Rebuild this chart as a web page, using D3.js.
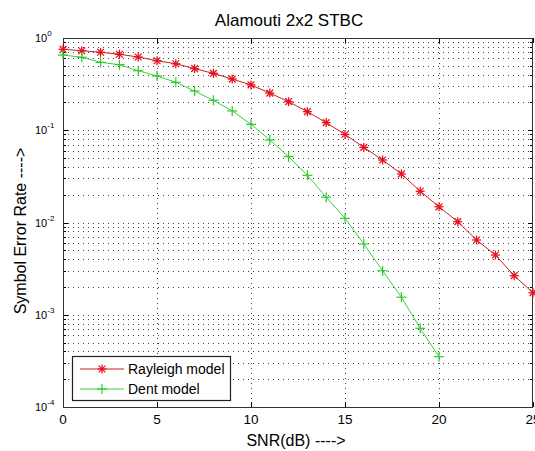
<!DOCTYPE html>
<html>
<head>
<meta charset="utf-8">
<script src="https://cdn.jsdelivr.net/npm/d3@7"></script>
<style>
  body { margin: 0; background: #fff; }
  text { font-family: "Liberation Sans", Arial, sans-serif; fill: #000; }
</style>
</head>
<body>
<div id="chart"></div>
<script>
// SNR in dB
const snrRayleigh = d3.range(0, 26);
const snrDent = d3.range(0, 21);

// symbol error rate
const rayleigh = [0.754, 0.728, 0.70, 0.666, 0.622, 0.567, 0.526, 0.465, 0.414, 0.359,
  0.31, 0.253, 0.204, 0.159, 0.121, 0.090, 0.0653, 0.0476, 0.0336, 0.0218,
  0.0148, 0.0102, 0.00646, 0.00444, 0.00265, 0.00173];
const dent = [0.654, 0.618, 0.545, 0.514, 0.442, 0.387, 0.331, 0.266, 0.211, 0.162,
  0.116, 0.0784, 0.0517, 0.0325, 0.0188, 0.0111, 0.00585, 0.0030, 0.00155, 0.000713,
  0.000351];

const xTicks = [0, 5, 10, 15, 20, 25];
const yExponents = [0, -1, -2, -3, -4];
const seriesNames = ['Rayleigh model', 'Dent model'];

const width = 535, height = 451;
const margin = { left: 63, right: 2, top: 38, bottom: 44 };

const svg = d3.select('#chart')
  .append('svg')
  .attr('width', width)
  .attr('height', height);

const x = d3.scaleLinear()
  .domain([0, 25])
  .range([margin.left, width - margin.right]);
const y = d3.scaleLog()
  .domain([1e-4, 1])
  .range([height - margin.bottom, margin.top]);

const [x0, x1] = x.range();
const [y0, y1] = y.range();

// grid values for the log axis: 1..9 in each decade
const yGrid = [];
for (let e = -4; e < 0; e++) {
  for (let m = 1; m < 10; m++) {
    if (!(e === -4 && m === 1)) yGrid.push(m * Math.pow(10, e));
  }
}

const grid = svg.append('g')
  .attr('stroke', '#444')
  .attr('stroke-width', 1)
  .attr('stroke-dasharray', '1,4');

grid.selectAll('.gx')
  .data(xTicks.slice(1, -1))
  .enter().append('line')
  .attr('x1', d => Math.round(x(d)) + 0.5)
  .attr('x2', d => Math.round(x(d)) + 0.5)
  .attr('y1', y1)
  .attr('y2', y0);

grid.selectAll('.gy')
  .data(yGrid)
  .enter().append('line')
  .attr('x1', x0)
  .attr('x2', x1)
  .attr('y1', d => Math.round(y(d)) + 0.5)
  .attr('y2', d => Math.round(y(d)) + 0.5);

// ticks on all four sides, pointing inward
const ticks = svg.append('g').attr('stroke', '#000').attr('stroke-width', 1);
xTicks.forEach(t => {
  const px = Math.round(x(t)) + 0.5;
  ticks.append('line').attr('x1', px).attr('x2', px).attr('y1', y0).attr('y2', y0 - 5);
  ticks.append('line').attr('x1', px).attr('x2', px).attr('y1', y1).attr('y2', y1 + 5);
});
yGrid.concat([1e-4]).forEach(v => {
  const py = Math.round(y(v)) + 0.5;
  const major = Math.abs(Math.log10(v) - Math.round(Math.log10(v))) < 1e-9;
  const len = major ? 5 : 3;
  ticks.append('line').attr('x1', x0).attr('x2', x0 + len).attr('y1', py).attr('y2', py);
  ticks.append('line').attr('x1', x1).attr('x2', x1 - len).attr('y1', py).attr('y2', py);
});

// box
svg.append('rect')
  .attr('x', x0 + 0.5)
  .attr('y', y1 + 0.5)
  .attr('width', x1 - x0 - 1)
  .attr('height', y0 - y1)
  .attr('fill', 'none')
  .attr('stroke', '#333')
  .attr('stroke-width', 1);

// tick labels
svg.append('g').selectAll('text')
  .data(xTicks)
  .enter().append('text')
  .attr('x', d => x(d))
  .attr('y', y0 + 17)
  .attr('text-anchor', 'middle')
  .style('font-size', '13.5px')
  .text(d => d);

const yl = svg.append('g').selectAll('text')
  .data(yExponents)
  .enter().append('text')
  .attr('x', 35)
  .attr('y', d => y(Math.pow(10, d)) + 4)
  .style('font-size', '11px');
yl.append('tspan').text('10');
yl.append('tspan')
  .attr('dy', -6)
  .style('font-size', '8px')
  .text(d => d);

// lines and markers
const line = d3.line().x(d => x(d[0])).y(d => y(d[1]));
const redLine = '#c42026', redMark = '#e8101c';
const greenLine = '#3bd23b', greenMark = '#2ec82e';

const redData = snrRayleigh.map((s, i) => [s, rayleigh[i]]);
const greenData = snrDent.map((s, i) => [s, dent[i]]);

function star(g, cx, cy, r, color) {
  const p = g.append('g').attr('stroke', color).attr('stroke-width', 1.3);
  p.append('line').attr('x1', cx - r).attr('x2', cx + r).attr('y1', cy).attr('y2', cy);
  p.append('line').attr('x1', cx).attr('x2', cx).attr('y1', cy - r).attr('y2', cy + r);
  const k = r * 0.75;
  p.append('line').attr('x1', cx - k).attr('x2', cx + k).attr('y1', cy - k).attr('y2', cy + k);
  p.append('line').attr('x1', cx - k).attr('x2', cx + k).attr('y1', cy + k).attr('y2', cy - k);
}
function plus(g, cx, cy, r, color) {
  const p = g.append('g').attr('stroke', color).attr('stroke-width', 1.2);
  p.append('line').attr('x1', cx - r).attr('x2', cx + r).attr('y1', cy).attr('y2', cy);
  p.append('line').attr('x1', cx).attr('x2', cx).attr('y1', cy - r).attr('y2', cy + r);
}

svg.append('path')
  .datum(redData)
  .attr('d', line)
  .attr('fill', 'none')
  .attr('stroke', redLine)
  .attr('stroke-width', 1);
svg.append('path')
  .datum(greenData)
  .attr('d', line)
  .attr('fill', 'none')
  .attr('stroke', greenLine)
  .attr('stroke-width', 1);

const marks = svg.append('g');
redData.forEach(d => star(marks, x(d[0]), y(d[1]), 4.5, redMark));
greenData.forEach(d => plus(marks, x(d[0]), y(d[1]), 5, greenMark));

// title and axis labels
svg.append('text')
  .attr('x', 289)
  .attr('y', 26)
  .attr('text-anchor', 'middle')
  .style('font-size', '17px')
  .text('Alamouti 2x2 STBC');

svg.append('text')
  .attr('x', 296)
  .attr('y', 446)
  .attr('text-anchor', 'middle')
  .style('font-size', '16px')
  .text('SNR(dB) ---->');

svg.append('text')
  .attr('transform', 'translate(26,231) rotate(-90)')
  .attr('text-anchor', 'middle')
  .style('font-size', '16px')
  .text('Symbol Error Rate ---->');

// legend
const legend = svg.append('g');
legend.append('rect')
  .attr('x', 72.5)
  .attr('y', 356.5)
  .attr('width', 158)
  .attr('height', 44)
  .attr('fill', '#fff')
  .attr('stroke', '#222')
  .attr('stroke-width', 1.2);

seriesNames.forEach((name, i) => {
  const ly = 369 + i * 20;
  legend.append('line')
    .attr('x1', 80).attr('x2', 124)
    .attr('y1', ly).attr('y2', ly)
    .attr('stroke', i === 0 ? redLine : greenLine)
    .attr('stroke-width', 1);
  if (i === 0) star(legend, 102, ly, 4.5, redMark);
  else plus(legend, 102, ly, 5, greenMark);
  legend.append('text')
    .attr('x', 128)
    .attr('y', ly + 5)
    .style('font-size', '14px')
    .text(name);
});
</script>
</body>
</html>
